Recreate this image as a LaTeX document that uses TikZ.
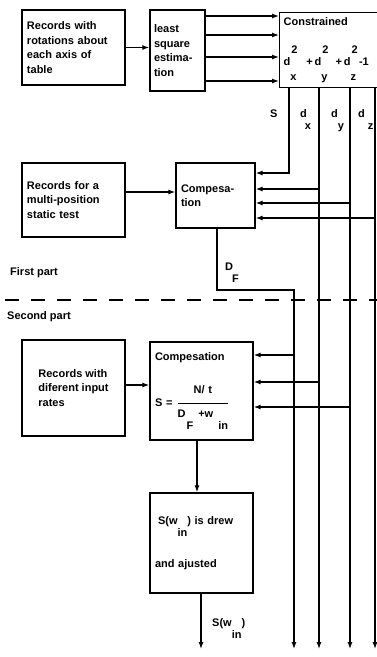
\documentclass[tikz,border=0pt]{standalone}
\usepackage{fontspec}
\setmainfont{Liberation Sans}
\usepackage{amsmath}
\usetikzlibrary{arrows.meta}

\newcommand{\txt}{\fontsize{11}{14.5}\selectfont\bfseries}
\newcommand{\dn}[1]{\raisebox{-12pt}{#1}}
\newcommand{\ud}[2]{\makebox[0pt][l]{\hspace{1pt}\raisebox{12pt}{#1}}\raisebox{-15pt}{#2}}

\begin{document}
\begin{tikzpicture}[x=1pt, y=-1pt,
                box/.style={draw, line width=1.3pt, align=left, font=\txt, inner sep=5pt},
                sig/.style={line width=1.2pt, ->, >={Latex[length=7pt,width=5pt]}},
                lbl/.style={font=\txt, inner sep=0pt, anchor=base west},
                part/.style={line width=1.4pt, dash pattern=on 14pt off 12pt}
            ]
                \useasboundingbox (0,0) rectangle (377,657);

                % First part : blocks
                \node[box, minimum height=75, text width=93] (rec1) at (73.5,47.5) {Records with\\rotations about\\each axis of\\table};
                \node[box, minimum height=81, text width=47, inner sep=4pt] (lsq) at (177.5,50.5) {least\\square\\estima-\\tion};
                \node[box, anchor=north west, minimum height=75, text width=101, inner sep=4pt] (con) at (279,12) {Constrained\\[20pt]d\ud{2}{x}\hspace{10pt}+\,d\ud{2}{y}\hspace{8pt}+\,d\ud{2}{z}\hspace{3pt}-1};
                \node[box, minimum height=74, text width=93] (rec2) at (73.5,200) {Records for a\\multi-position\\static test};
                \node[box, minimum height=65, text width=69] (cmp1) at (215.5,195.5) {Compesa-\\tion};

                % Second part : blocks
                \node[box, minimum width=103, minimum height=96] (rec3) at (73.5,388) {Records with\\diferent input\\rates};
                \node[box, minimum height=98, text width=93] (cmp2) at (201.5,391) {Compesation\\[22pt]S =\hspace{4pt}$\genfrac{}{}{1pt}{0}{\raisebox{5pt}{N/ t}}{\raisebox{-4pt}{\text{D\hspace{1pt}\dn{F}\hspace{5pt}+w\hspace{5pt}\dn{in}}}}$};
                \node[box, minimum height=100, text width=93] (drew) at (201.5,543) {\hspace{3pt}S(w\dn{in}) is drew\\[22pt]and ajusted};

                % Output ends of the long lines
                \coordinate (oF) at (294,649);
                \coordinate (ox) at (319,649);
                \coordinate (oy) at (350,649);
                \coordinate (oz) at (375,649);
                \coordinate (oS) at (201,649);

                % Separation of the two parts
                \coordinate (dl) at (5,300);
                \coordinate (dr) at (377,300);
                \draw[part] (dl) -- (dr);
                \node[lbl] (first) at (10,275) {First part};
                \node[lbl] (second) at (7,319) {Second part};

                % Estimation chain
                \draw[sig] (rec1) -- (rec1 -| lsq.west);
                \foreach \y in {16,35,57,81}
                    \draw[sig] (lsq.east |- 0,\y) -- (con.west |- 0,\y);

                % Outputs of the constrained block
                \draw[sig] (con.south -| 289,0) |- (cmp1.east |- 0,173);
                \draw[sig] (con.south -| ox) -- (ox);
                \draw[sig] (con.south -| oy) -- (oy);
                \draw[sig] (con.south -| oz) -- (oz);
                \node[lbl] (lS) at (270,117) {S};
                \node[lbl] (ldx) at (300,117) {d\hspace{-2pt}\dn{x}};
                \node[lbl] (ldy) at (331,117) {d\dn{y}};
                \node[lbl] (ldz) at (358,117) {d\hspace{3pt}\dn{z}};

                % Inputs of the first compensation
                \draw[sig] (rec2.east |- 0,192) -- (cmp1.west |- 0,192);
                \draw[sig] (ox |- 0,189) -- (cmp1.east |- 0,189);
                \draw[sig] (oy |- 0,203) -- (cmp1.east |- 0,203);
                \draw[sig] (oz |- 0,218) -- (cmp1.east |- 0,218);

                % D_F line
                \draw[sig] (cmp1.south -| 217,0) |- (oF |- 0,290) -- (oF);
                \node[lbl] (lDF) at (225,270) {D\hspace{-1pt}\dn{F}};

                % Inputs of the second compensation
                \draw[sig] (rec3.east |- 0,385) -- (cmp2.west |- 0,385);
                \draw[sig] (oF |- 0,355) -- (cmp2.east |- 0,355);
                \draw[sig] (ox |- 0,382) -- (cmp2.east |- 0,382);
                \draw[sig] (oy |- 0,407) -- (cmp2.east |- 0,407);

                % Final curve
                \draw[sig] (cmp2.south -| 197,0) -- (drew.north -| 197,0);
                \draw[sig] (drew.south -| oS) -- (oS);
                \node[lbl] (lSout) at (212,626) {S(w\dn{in})};
            \end{tikzpicture}
\end{document}
